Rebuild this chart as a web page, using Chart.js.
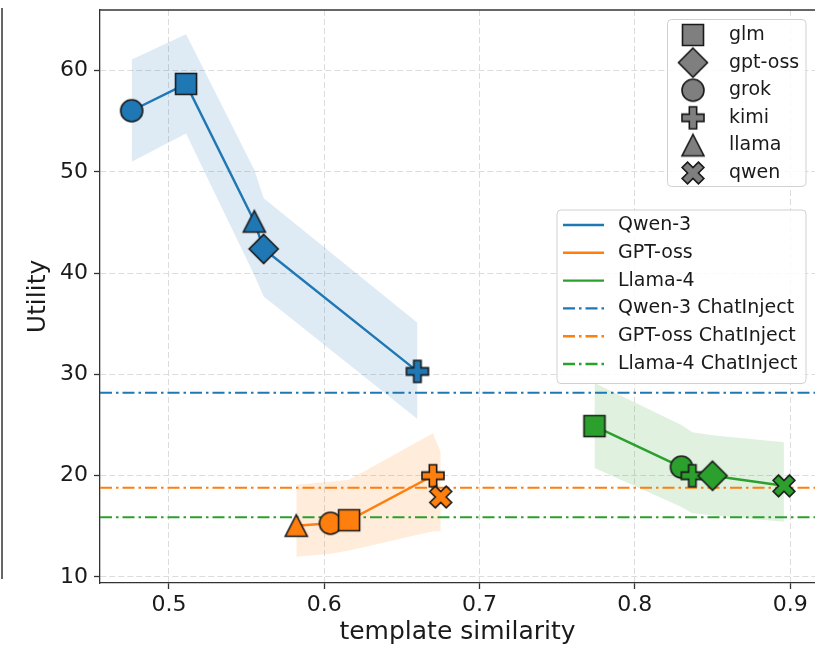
<!DOCTYPE html>
<html>
<head>
<meta charset="utf-8">
<script src="https://cdn.jsdelivr.net/npm/chart.js@4.4.1/dist/chart.umd.min.js"></script>
<style>
  html, body { margin: 0; padding: 0; background: #fff; overflow: hidden; }
  #wrap { position: relative; width: 815px; height: 656px; }
  #wrap canvas { display: block; }
  #edge { position: absolute; left: 1px; top: 8px; width: 2px; height: 571px; background: #666; }
</style>
</head>
<body>
<div id="wrap">
  <div id="edge"></div>
  <canvas id="chart"></canvas>
</div>
<script>
// ---- data ----
const models = ['glm', 'gpt-oss', 'grok', 'kimi', 'llama', 'qwen'];
const seriesNames = ['Qwen-3', 'GPT-oss', 'Llama-4'];
const chatInjectNames = ['Qwen-3 ChatInject', 'GPT-oss ChatInject', 'Llama-4 ChatInject'];

// Qwen-3
const qwenModels = ['grok', 'glm', 'llama', 'gpt-oss', 'kimi'];
const qwenSim = [0.476, 0.511, 0.555, 0.561, 0.660];
const qwenUtil = [56.05, 58.7, 45.1, 42.4, 30.3];
const qwenHigh = [61.1, 63.6, 50.2, 47.4, 35.1];
const qwenLow = [51.0, 53.8, 39.8, 37.7, 25.6];

// GPT-oss
const gptModels = ['llama', 'grok', 'glm', 'kimi', 'qwen'];
const gptSim = [0.582, 0.604, 0.616, 0.670, 0.675];
const gptUtil = [15.05, 15.3, 15.6, 20.0, 17.9];
const gptHigh = [19.1, 19.4, 19.6, 24.2, 22.3];
const gptLow = [12.0, 12.3, 12.6, 14.5, 14.5];

// Llama-4
const llamaModels = ['glm', 'grok', 'kimi', 'gpt-oss', 'qwen'];
const llamaSim = [0.774, 0.830, 0.837, 0.850, 0.896];
const llamaUtil = [24.9, 20.85, 20.0, 20.0, 19.0];
const llamaHigh = [29.15, 25.0, 24.3, 24.0, 23.3];
const llamaLow = [20.75, 16.9, 16.3, 16.1, 15.45];

// ChatInject baselines (horizontal lines)
const chatInject = [28.2, 18.8, 15.9];

// axes
const xMin = 0.4556, xMax = 0.916;
const yMin = 9.4, yMax = 66.0;
const xTicks = [0.5, 0.6, 0.7, 0.8, 0.9];
const yTicks = [10, 20, 30, 40, 50, 60];

const colors = ['#1f77b4', '#ff7f0e', '#2ca02c'];
const bandColors = ['rgba(31,119,180,0.15)', 'rgba(255,127,14,0.15)', 'rgba(44,160,44,0.15)'];
const FONT = '"DejaVu Sans", Verdana, sans-serif';
const TXT = '#1a1a1a';

Chart.defaults.font.family = FONT;

// ---- marker images (matplotlib-like filled markers with dark edge) ----
function makeMarker(shape, fill) {
    const size = 36;
    const c = document.createElement('canvas');
    c.width = size; c.height = size;
    const g = c.getContext('2d');
    g.translate(size / 2, size / 2);
    g.fillStyle = fill;
    g.strokeStyle = '#1a1a1a';
    g.lineWidth = 1.6;
    g.lineJoin = 'miter';
    g.beginPath();
    if (shape === 'glm') {
        g.rect(-10.5, -10.5, 21, 21);
    } else if (shape === 'gpt-oss') {
        g.moveTo(0, -14.5); g.lineTo(14.5, 0); g.lineTo(0, 14.5); g.lineTo(-14.5, 0); g.closePath();
    } else if (shape === 'grok') {
        g.arc(0, 0, 11, 0, Math.PI * 2);
    } else if (shape === 'llama') {
        g.moveTo(0, -11); g.lineTo(11, 10.5); g.lineTo(-11, 10.5); g.closePath();
    } else {
        // filled plus (kimi) / filled x (qwen)
        const u = 11 / 3;
        const pts = [[-1,-3],[1,-3],[1,-1],[3,-1],[3,1],[1,1],[1,3],[-1,3],[-1,1],[-3,1],[-3,-1],[-1,-1]];
        const rot = shape === 'qwen' ? Math.PI / 4 : 0;
        const k = shape === 'qwen' ? 1.05 : 1;
        pts.forEach(([px, py], i) => {
            const x = (px * Math.cos(rot) - py * Math.sin(rot)) * u * k;
            const y = (px * Math.sin(rot) + py * Math.cos(rot)) * u * k;
            if (i === 0) g.moveTo(x, y); else g.lineTo(x, y);
        });
        g.closePath();
    }
    g.fill();
    g.stroke();
    return c;
}

const markerCache = {};
function marker(shape, fill) {
    const key = shape + fill;
    if (!markerCache[key]) markerCache[key] = makeMarker(shape, fill);
    return markerCache[key];
}

// ---- datasets ----
const groups = [
    { sim: qwenSim, util: qwenUtil, high: qwenHigh, low: qwenLow, names: qwenModels },
    { sim: gptSim, util: gptUtil, high: gptHigh, low: gptLow, names: gptModels },
    { sim: llamaSim, util: llamaUtil, high: llamaHigh, low: llamaLow, names: llamaModels }
];

const datasets = [];
groups.forEach((grp, i) => {
    datasets.push({
        label: seriesNames[i] + ' band',
        data: grp.sim.map((x, k) => ({ x, y: grp.high[k] })),
        borderWidth: 0, pointRadius: 0,
        backgroundColor: bandColors[i],
        fill: '+1', order: 10
    });
    datasets.push({
        label: seriesNames[i] + ' low',
        data: grp.sim.map((x, k) => ({ x, y: grp.low[k] })),
        borderWidth: 0, pointRadius: 0, fill: false, order: 10
    });
});
groups.forEach((grp, i) => {
    datasets.push({
        label: seriesNames[i],
        data: grp.sim.map((x, k) => ({ x, y: grp.util[k] })),
        borderColor: colors[i],
        borderWidth: 2.4,
        fill: false,
        pointStyle: grp.names.map(m => marker(m, colors[i])),
        pointRadius: 11,
        order: 1
    });
});
chatInject.forEach((v, i) => {
    datasets.push({
        label: chatInjectNames[i],
        data: [{ x: xMin, y: v }, { x: xMax, y: v }],
        borderColor: colors[i],
        borderWidth: 2,
        borderDash: [12, 4, 2.5, 4],
        pointRadius: 0, fill: false, order: 5
    });
});

// ---- legends + top spine ----
function legendBox(ctx, x, y, w, h) {
    const r = 4;
    ctx.beginPath();
    ctx.moveTo(x + r, y);
    ctx.arcTo(x + w, y, x + w, y + h, r);
    ctx.arcTo(x + w, y + h, x, y + h, r);
    ctx.arcTo(x, y + h, x, y, r);
    ctx.arcTo(x, y, x + w, y, r);
    ctx.closePath();
    ctx.fillStyle = 'rgba(255,255,255,0.85)';
    ctx.fill();
    ctx.strokeStyle = '#d0d0d0';
    ctx.lineWidth = 1;
    ctx.stroke();
}

const extras = {
    id: 'extras',
    afterDraw(chart) {
        const { ctx, chartArea: a } = chart;
        ctx.save();
        ctx.strokeStyle = '#333';
        ctx.lineWidth = 1.3;
        ctx.beginPath();
        ctx.moveTo(a.left, a.top);
        ctx.lineTo(a.right, a.top);
        ctx.stroke();

        ctx.font = '19px ' + FONT;
        ctx.textBaseline = 'middle';
        ctx.textAlign = 'left';

        // marker legend
        const r1 = a.right - 9;
        legendBox(ctx, r1 - 138.5, a.top + 9.5, 138.5, 167);
        models.forEach((m, i) => {
            const y = a.top + 25 + i * 27.6;
            const img = marker(m, '#7f7f7f');
            ctx.drawImage(img, r1 - 113 - img.width / 2, y - img.height / 2);
            ctx.fillStyle = TXT;
            ctx.fillText(m, r1 - 77, y);
        });

        // line legend
        const x2 = r1 - 249;
        legendBox(ctx, x2, a.top + 200, 249, 173.5);
        const labels = seriesNames.concat(chatInjectNames);
        labels.forEach((lab, i) => {
            const y = a.top + 215 + i * 27.8;
            ctx.strokeStyle = colors[i % 3];
            ctx.lineWidth = 2.4;
            ctx.setLineDash(i < 3 ? [] : [12, 4, 2.5, 4]);
            ctx.beginPath();
            ctx.moveTo(x2 + 6, y);
            ctx.lineTo(x2 + 47, y);
            ctx.stroke();
            ctx.setLineDash([]);
            ctx.fillStyle = TXT;
            ctx.fillText(lab, x2 + 61, y);
        });
        ctx.restore();
    }
};

new Chart(document.getElementById('chart'), {
    type: 'line',
    data: { datasets },
    plugins: [extras],
    options: {
        responsive: true,
        maintainAspectRatio: false,
        animation: false,
        events: [],
        layout: { autoPadding: false, padding: { top: 10, right: 0, bottom: 0, left: 0 } },
        plugins: { legend: { display: false }, tooltip: { enabled: false } },
        scales: {
            x: {
                type: 'linear', min: xMin, max: xMax,
                afterBuildTicks: s => { s.ticks = xTicks.map(v => ({ value: v })); },
                afterFit: s => { s.height = 73; s.paddingLeft = 0; s.paddingRight = 0; },
                ticks: {
                    font: { size: 22 }, color: TXT, padding: 3,
                    autoSkip: false, maxRotation: 0,
                    callback: v => v.toFixed(1)
                },
                grid: { color: '#dcdcdc', lineWidth: 1, tickLength: 6, tickColor: '#333', tickWidth: 1.3 },
                border: { display: true, color: '#333', width: 1.3, dash: [6, 3] },
                title: { display: true, text: 'template similarity', color: TXT, font: { size: 25 }, padding: { top: 0, bottom: 9 } }
            },
            y: {
                type: 'linear', min: yMin, max: yMax,
                afterBuildTicks: s => { s.ticks = yTicks.map(v => ({ value: v })); },
                afterFit: s => { s.width = 100; s.paddingTop = 0; s.paddingBottom = 0; },
                ticks: { font: { size: 22 }, color: TXT, padding: 6, autoSkip: false },
                grid: { color: '#dcdcdc', lineWidth: 1, tickLength: 6, tickColor: '#333', tickWidth: 1.3 },
                border: { display: true, color: '#333', width: 1.3, dash: [6, 3] },
                title: { display: true, text: 'Utility', color: TXT, font: { size: 25 }, padding: { top: 23, bottom: 0 } }
            }
        }
    }
});
</script>
</body>
</html>
